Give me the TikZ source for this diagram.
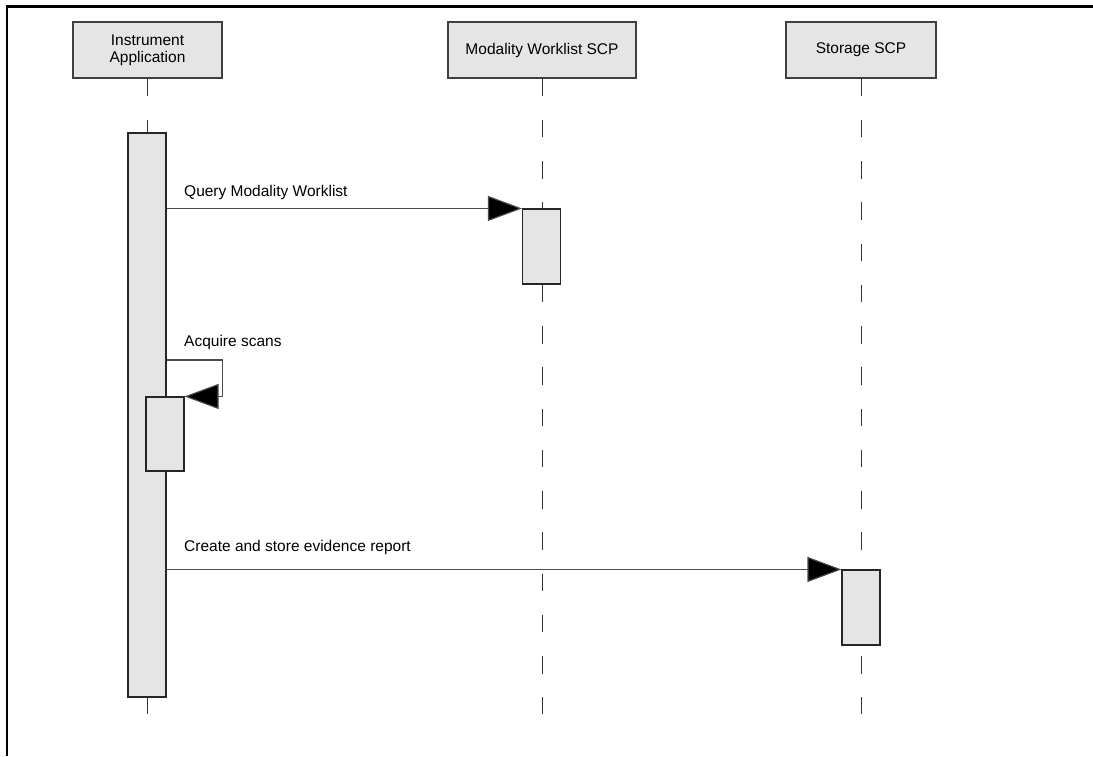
\documentclass[tikz,border=0pt]{standalone}
\usepackage{fontspec}
\setmainfont{Liberation Sans}
\usetikzlibrary{arrows.meta}
\begin{document}
\begin{tikzpicture}[x=1pt,y=-1pt,
  participant/.style={draw=black!75, line width=1.1pt, fill=black!10, minimum height=56pt, inner sep=0pt, align=center, font=\fontsize{15.5}{17}\selectfont},
  activation/.style={draw=black!85, line width=1.1pt, fill=black!10, minimum width=38pt, inner sep=0pt},
  lifeline/.style={draw=black!80, line width=1pt, dash pattern=on 17.5pt off 23.75pt},
  msg/.style={draw=black!70, line width=1.1pt, -{Triangle[length=34pt,width=25pt,fill=black]}},
  lbl/.style={anchor=base west, inner sep=0pt, font=\fontsize{15.5}{17}\selectfont}]
\useasboundingbox (0,0) rectangle (1093,756);
\fill[white] (0,0) rectangle (1093,756);
\draw[line width=2.2pt] (7,756) -- (7,6.5) -- (1093,6.5);
% participants
\node[participant, minimum width=149pt] (pI) at (147.5,50) {Instrument\\Application};
\node[participant, minimum width=188pt] (pM) at (542,50) {Modality Worklist SCP};
\node[participant, minimum width=150pt] (pS) at (861,50) {Storage SCP};
\coordinate (bot) at (0,714);
\draw[lifeline] (pI.south) -- (pI.south |- bot);
\draw[lifeline] (pM.south) -- (pM.south |- bot);
\draw[lifeline] (pS.south) -- (pS.south |- bot);
% activations
\node[activation, minimum height=564pt] (aI) at (147,415) {};
\node[activation, minimum height=74pt] (aI2) at (165,434) {};
\node[activation, minimum height=75pt] (aM) at (541.5,246.5) {};
\node[activation, minimum height=75pt] (aS) at (861,607.5) {};
% messages
\draw[msg] (aI.east |- aM.north) -- (aM.north west);
\coordinate (s1) at (0,360);
\draw[msg] (aI.east |- s1) -- ++(56,0) |- (aI2.north east);
\draw[msg] (aI.east |- aS.north) -- (aS.north west);
% labels
\node[lbl] (l1) at (184,196) {Query Modality Worklist};
\node[lbl] (l2) at (184,346) {Acquire scans};
\node[lbl] (l3) at (184,551) {Create and store evidence report};
\end{tikzpicture}
\end{document}
